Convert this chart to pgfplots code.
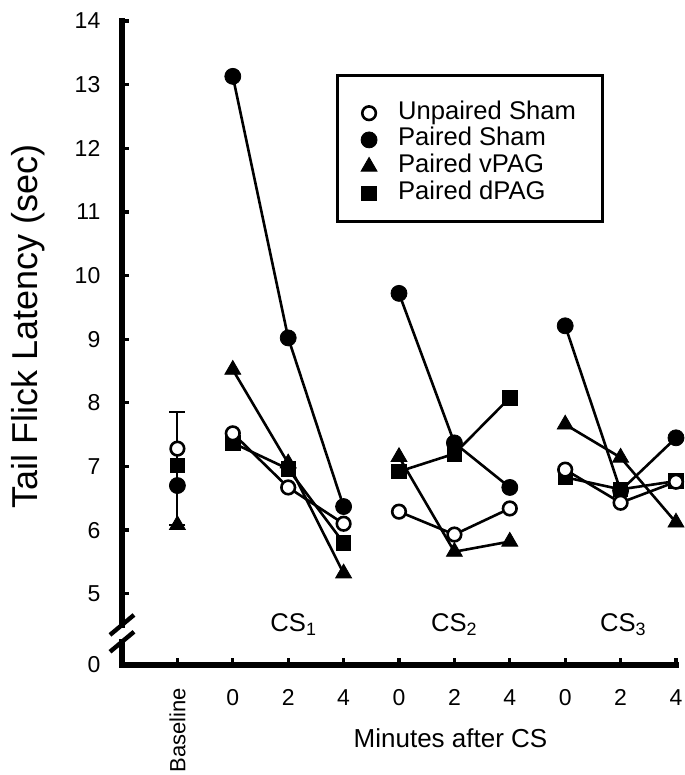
\documentclass[border=0pt]{standalone}
\usepackage{fontspec}
\setmainfont{Liberation Sans}
\usepackage{pgfplots}
\pgfplotsset{compat=1.18}

\begin{document}
\begin{tikzpicture}
\begin{axis}[
  name=ax,
  scale only axis,
  width=277pt, height=322pt,
  xmin=-1, xmax=9,
  ymin=3.88, ymax=14,
  clip=false,
  axis line style={draw=none},
  xtick={0,...,9},
  xticklabels={,0,2,4,0,2,4,0,2,4},
  ytick={3.88,5,6,7,8,9,10,11,12,13,14},
  yticklabels={0,5,6,7,8,9,10,11,12,13,14},
  xtick pos=left, ytick pos=left,
  tick align=inside,
  major tick length=3.5pt,
  tick style={black, line width=1.6pt},
  /pgf/number format/assume math mode=true,
  tick label style={font=\fontsize{11.5}{13}\selectfont},
  xticklabel style={yshift=-8.6pt},
  yticklabel style={xshift=-7.3pt},
  unbounded coords=jump,
  reverse legend,
  legend cell align=left,
  legend image code/.code={\draw[#1, only marks] plot coordinates {(0pt,0pt)};},
  legend style={draw=none, fill=none, at={(axis cs:3.2,12.83)}, anchor=north west,
    font=\fontsize{12.8}{14}\selectfont, row sep=0pt, column sep=9.5pt,
    nodes={inner sep=1pt, text height=8.6pt, text depth=2.75pt}},
  every axis plot/.append style={line width=1.3pt, black},
]
% baseline error bar (drawn first, under the markers)
\addplot[only marks, mark=none, forget plot,
  error bars/.cd, y dir=both, y explicit,
  error bar style={line width=1pt, black},
  error mark options={rotate=90, mark size=4pt, line width=1pt, black}]
  coordinates {(0,7.28) += (0,0.58) -= (0,1.2)};

% Paired dPAG
\addplot[mark=square*, mark size=3.6pt, mark options={fill=black, line width=0.4pt}]
  coordinates {(0,7.02) (0.5,nan) (1,7.37) (2,6.96) (3,5.80) (3.5,nan)
               (4,6.92) (5,7.20) (6,8.08) (6.5,nan) (7,6.83) (8,6.64) (9,6.77)};
% Paired vPAG
\addplot[mark=triangle*, mark size=4.6pt, mark options={fill=black, line width=0.4pt}]
  coordinates {(0,6.08) (0.5,nan) (1,8.52) (2,7.05) (3,5.32) (3.5,nan)
               (4,7.15) (5,5.66) (6,5.82) (6.5,nan) (7,7.66) (8,7.14) (9,6.12)};
% Paired Sham
\addplot[mark=*, mark size=4pt, mark options={fill=black, line width=0.4pt}]
  coordinates {(0,6.70) (0.5,nan) (1,13.13) (2,9.02) (3,6.37) (3.5,nan)
               (4,9.72) (5,7.37) (6,6.67) (6.5,nan) (7,9.21) (8,6.62) (9,7.45)};
% Unpaired Sham
\addplot[mark=*, mark size=3.4pt, mark options={fill=white, line width=1.3pt}]
  coordinates {(0,7.28) (0.5,nan) (1,7.52) (2,6.67) (3,6.10) (3.5,nan)
               (4,6.29) (5,5.93) (6,6.34) (6.5,nan) (7,6.95) (8,6.43) (9,6.76)};

\legend{Paired dPAG,Paired vPAG,Paired Sham,Unpaired Sham}

% axis lines with break
\draw[line width=2.6pt, line cap=rect] (axis cs:-1,14) -- (axis cs:-1,4.51);
\draw[line width=2.6pt, line cap=rect] (axis cs:-1,4.245) -- (axis cs:-1,3.88) -- (axis cs:9,3.88);
\draw[line width=2.2pt] ([xshift=-6pt,yshift=-5pt]axis cs:-1,4.51) -- ([xshift=6pt,yshift=5pt]axis cs:-1,4.51);
\draw[line width=2.2pt] ([xshift=-6pt,yshift=-5pt]axis cs:-1,4.245) -- ([xshift=6pt,yshift=5pt]axis cs:-1,4.245);

% legend frame
\draw[line width=1.5pt] (axis cs:2.888,13.14) rectangle (axis cs:7.67,10.85);

% group labels
\node[font=\fontsize{12.8}{14}\selectfont] at (axis cs:2.1,4.51) {CS\textsubscript{1}};
\node[font=\fontsize{12.8}{14}\selectfont] at (axis cs:5.0,4.51) {CS\textsubscript{2}};
\node[font=\fontsize{12.8}{14}\selectfont] at (axis cs:8.05,4.51) {CS\textsubscript{3}};

% axis labels
\node[rotate=90, anchor=east, font=\fontsize{11}{13}\selectfont] at ([yshift=-8pt]axis cs:0,3.88) {Baseline};
\node[font=\fontsize{13}{15}\selectfont] at ([yshift=-36.5pt]axis cs:4.93,3.88) {Minutes after CS};
\node[rotate=90, font=\fontsize{18}{20}\selectfont] at ([xshift=-47pt]axis cs:-1,9.2) {Tail Flick Latency (sec)};
\end{axis}
\pgfresetboundingbox
\path[use as bounding box] ([xshift=-61pt,yshift=-55pt]ax.south west) rectangle ([xshift=4.5pt,yshift=10.5pt]ax.north east);
\end{tikzpicture}
\end{document}
